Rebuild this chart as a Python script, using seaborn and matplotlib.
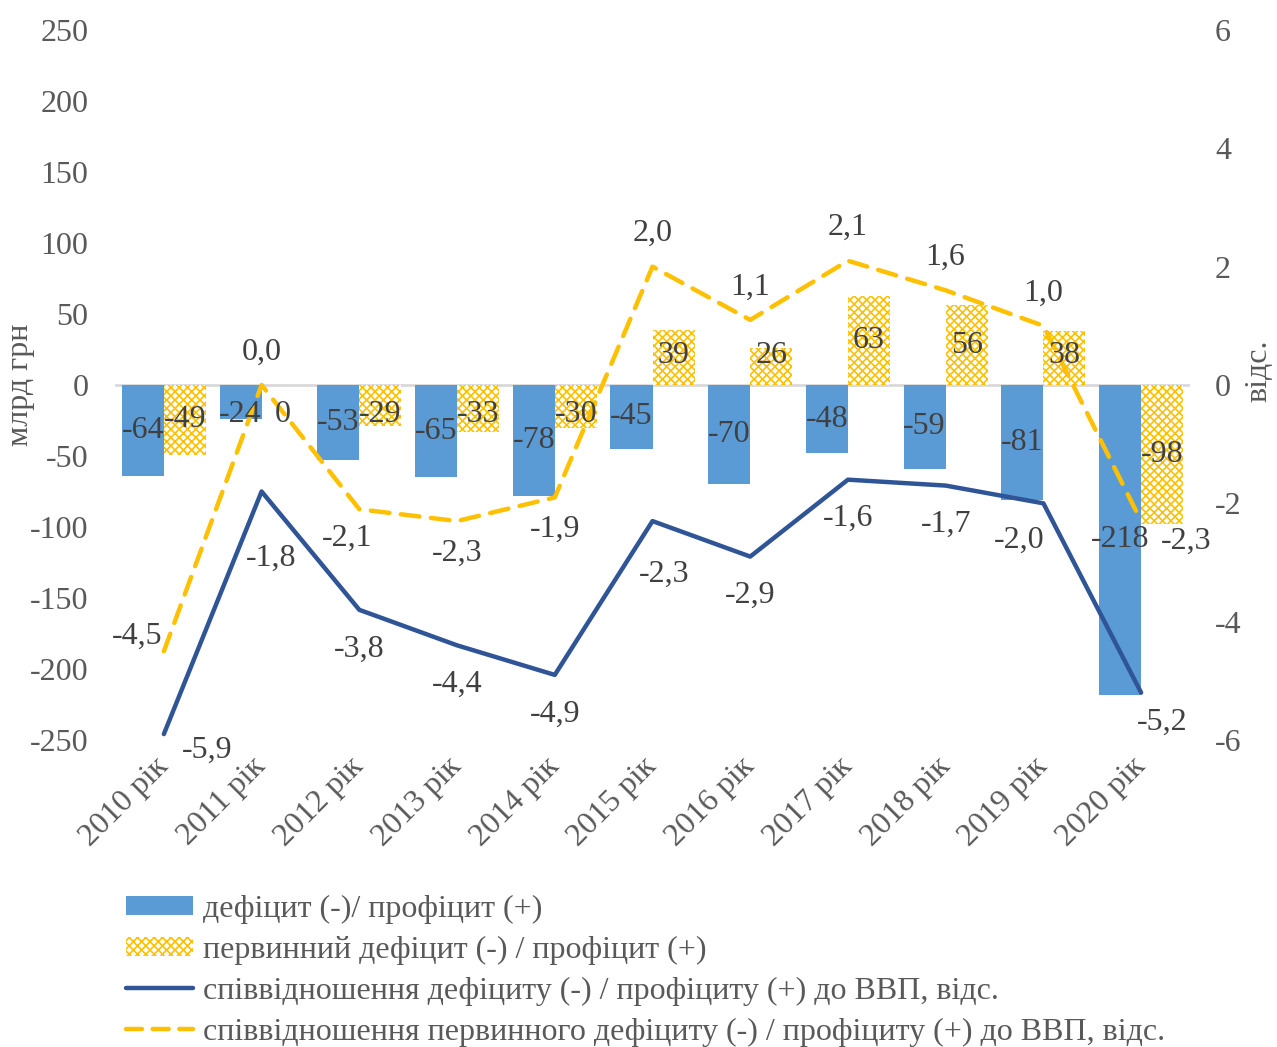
import matplotlib
matplotlib.use("Agg")
import matplotlib.pyplot as plt
import matplotlib.patches as mpatches
from matplotlib.lines import Line2D
import numpy as np
import pandas as pd
import seaborn as sns

# --- data -------------------------------------------------------------
years = ["2010 рік", "2011 рік", "2012 рік", "2013 рік", "2014 рік", "2015 рік",
         "2016 рік", "2017 рік", "2018 рік", "2019 рік", "2020 рік"]
deficit = [-64, -24, -53, -65, -78, -45, -70, -48, -59, -81, -218]
primary = [-49, 0, -29, -33, -30, 39, 26, 63, 56, 38, -98]
deficit_ratio = [-5.9, -1.8, -3.8, -4.4, -4.9, -2.3, -2.9, -1.6, -1.7, -2.0, -5.2]
primary_ratio = [-4.5, 0.0, -2.1, -2.3, -1.9, 2.0, 1.1, 2.1, 1.6, 1.0, -2.3]

name_deficit = "дефіцит (-)/ профіцит (+)"
name_primary = "первинний дефіцит (-) / профіцит (+)"
name_ratio = "співвідношення дефіциту (-) / профіциту (+) до ВВП, відс."
name_pratio = "співвідношення первинного дефіциту (-) / профіциту (+) до ВВП, відс."

# label nudges in pixels (dx, dy up) where the default placement is overridden
ratio_nudge = {0: (43, -16), 1: (10, -67), 5: (12, -53), 9: (-24, -37), 10: (21, -30)}
pratio_nudge = {0: (-27, 15), 2: (-12, -29), 10: (45, -20)}

BLUE = "#5B9BD5"
NAVY = "#2F5597"
GOLD = "#FFC000"
TICK = "#595959"
LABEL = "#404040"
FS = 23

sns.set_theme(style="white")
plt.rcParams["font.family"] = ["Liberation Serif", "DejaVu Serif"]
plt.rcParams["axes.unicode_minus"] = False
plt.rcParams["hatch.linewidth"] = 1.2

df = pd.DataFrame({
    "year": years * 2,
    "series": [name_deficit] * len(years) + [name_primary] * len(years),
    "value": deficit + primary,
})

fig = plt.figure(figsize=(12.77, 10.47), dpi=100)
ax = fig.add_axes([115 / 1277, 1 - 740 / 1047, 1075 / 1277, 710 / 1047])

ax.axhline(0, color="#D9D9D9", lw=2, zorder=0.5)
sns.barplot(data=df, x="year", y="value", hue="series",
            hue_order=[name_deficit, name_primary],
            palette={name_deficit: BLUE, name_primary: "white"},
            saturation=1, width=0.86, gap=0, linewidth=0, legend=False,
            ax=ax, zorder=2)

for patch in ax.containers[1]:
    patch.set_hatch("xxxx")
    patch.set_edgecolor(GOLD)
    patch.set_linewidth(0)

ax.set_xlim(-0.5, len(years) - 0.5)
ax.set_ylim(-250, 250)
ax.set_yticks(np.arange(-250, 251, 50))
ax.set_xlabel("")
ax.set_ylabel("млрд грн", fontsize=FS, color=TICK)
ax.yaxis.set_label_coords(-0.074, 0.5)
ax.tick_params(axis="y", length=0, pad=19, labelsize=FS, labelcolor=TICK)
ax.tick_params(axis="x", length=0, pad=16, labelsize=FS, labelcolor=TICK)
for lab in ax.get_xticklabels():
    lab.set_rotation(45)
    lab.set_ha("right")
    lab.set_va("center")
    lab.set_rotation_mode("anchor")
for sp in ax.spines.values():
    sp.set_visible(False)

ax2 = ax.twinx()
x = np.arange(len(years))
sns.lineplot(x=x, y=deficit_ratio, ax=ax2, color=NAVY, lw=3.2,
             solid_capstyle="round", zorder=3)
sns.lineplot(x=x, y=primary_ratio, ax=ax2, color=GOLD, lw=3.2,
             dashes=False, zorder=4)
ax2.lines[-1].set_dashes((4.2, 2.6))
ax2.lines[-1].set_dash_capstyle("round")
ax2.set_ylim(-6, 6)
ax2.set_yticks(np.arange(-6, 7, 2))
ax2.set_ylabel("відс.", fontsize=FS, color=TICK)
ax2.yaxis.set_label_coords(1.051, 0.52)
ax2.tick_params(axis="y", length=0, pad=18, labelsize=FS, labelcolor=TICK)
for sp in ax2.spines.values():
    sp.set_visible(False)
ax2.grid(False)
ax.grid(False)

# bar labels (centred in the bar, kept clear of the zero line)
for container, vals in zip(ax.containers, [deficit, primary]):
    for patch, v in zip(container, vals):
        cx = patch.get_x() + patch.get_width() / 2
        sign = 1 if v > 0 else -1
        ypos = sign * max(abs(v) / 2, 21)
        ax2.text(cx, ypos, f"{v}", transform=ax.transData, ha="center",
                 va="center", fontsize=FS, color=LABEL, zorder=6)


def fmt(v):
    return f"{v:.1f}".replace(".", ",")


for i, v in enumerate(deficit_ratio):
    dx, dy = ratio_nudge.get(i, (0, -39))
    ax2.annotate(fmt(v), (i, v), xytext=(dx * 0.72, dy * 0.72),
                 textcoords="offset points", ha="center", va="center",
                 fontsize=FS, color=LABEL, zorder=6)

for i, v in enumerate(primary_ratio):
    default = (0, 33) if v >= 0 else (0, -32)
    dx, dy = pratio_nudge.get(i, default)
    ax2.annotate(fmt(v), (i, v), xytext=(dx * 0.72, dy * 0.72),
                 textcoords="offset points", ha="center", va="center",
                 fontsize=FS, color=LABEL, zorder=6)

handles = [
    mpatches.Patch(facecolor=BLUE, linewidth=0),
    mpatches.Patch(facecolor="white", edgecolor=GOLD, hatch="xxxx", linewidth=0),
    Line2D([], [], color=NAVY, lw=3.2, solid_capstyle="round"),
    Line2D([], [], color=GOLD, lw=3.2, dashes=(3.6, 2.4), dash_capstyle="round"),
]
fig.legend(handles, [name_deficit, name_primary, name_ratio, name_pratio],
           loc="upper left", bbox_to_anchor=(126 / 1277, 1 - 895 / 1047),
           frameon=False, borderpad=0, borderaxespad=0, handlelength=2.1,
           handleheight=0.55, handletextpad=0.3, labelspacing=0.37,
           fontsize=FS, labelcolor=TICK)

fig.savefig("out.png", dpi=100)
